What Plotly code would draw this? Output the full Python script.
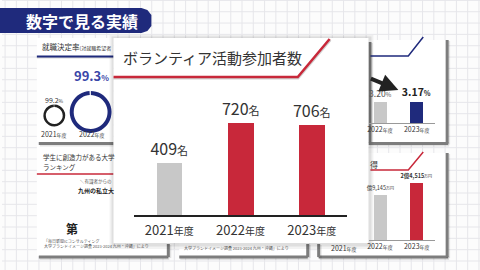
import plotly.graph_objects as go

W, H = 480, 270
FONT = "Noto Sans CJK JP, Noto Sans, sans-serif"
NAVY = "#1f2a7c"
RED = "#c8283a"
GRAY_BAR = "#c8c8c8"
BORDER = "#7d7d7d"

# ---------------- data ----------------
years = ["2021", "2022", "2023"]
volunteers = [409, 720, 706]
volunteer_colors = [GRAY_BAR, RED, RED]

rate_years = ["2022", "2023"]
rates = [3.20, 3.17]
rate_labels = ["3.20<span style='font-size:6px'>%</span>",
               "<b>3.17</b><span style='font-size:7px'><b>%</b></span>"]

fund_years = ["2022", "2023"]
funds = [19145, 24515]  # 万円
fund_labels = ["億9,145<span style='font-size:4px'>万円</span>",
               "<b>2億4,515</b><span style='font-size:4px'>万円</span>"]

employment = [99.2, 99.3]


def px(x):
    return x / W


def py(y):
    return 1 - y / H


def tick_text(ys, small):
    return [f"{y}<span style='font-size:{small}px'>年度</span>" for y in ys]


shapes = []


def rect(x0, y0, x1, y1, fill):
    shapes.append(dict(type="rect", xref="paper", yref="paper",
                       x0=px(x0), x1=px(x1), y0=py(y1), y1=py(y0),
                       fillcolor=fill, line=dict(width=0), layer="below"))


def seg(x0, y0, x1, y1, color, width):
    shapes.append(dict(type="line", xref="paper", yref="paper",
                       x0=px(x0), x1=px(x1), y0=py(y0), y1=py(y1),
                       line=dict(color=color, width=width), layer="below"))


def path(points, color=None, width=1.5, fill=None, closed=False):
    d = "M " + " L ".join(f"{px(x):.5f},{py(y):.5f}" for x, y in points)
    if closed:
        d += " Z"
    shapes.append(dict(type="path", xref="paper", yref="paper", path=d,
                       line=dict(color=color or "rgba(0,0,0,0)", width=width if color else 0),
                       fillcolor=fill, layer="below"))


# grid paper
k = 0
while 3.1 + 11.33 * k < W:
    x = 3.1 + 11.33 * k
    seg(x, 0, x, H, "#e6e6ea", 1)
    k += 1
k = 0
while 0.4 + 11.33 * k < H:
    y = 0.4 + 11.33 * k
    seg(0, y, W, y, "#e6e6ea", 1)
    k += 1

# banner
path([(-5, 8), (140, 8), (146, 10), (150, 15), (150, 26), (146, 31), (140, 33), (-5, 33)],
     fill=NAVY, closed=True)

# background cards (white)
rect(35, 38, 112, 142, "white")      # top-left
rect(35, 145, 167, 256, "white")     # bottom-left
rect(178, 240, 307, 256, "white")    # bottom-middle
rect(368, 40, 447, 142, "white")     # top-right
rect(318, 153, 447, 256, "white")    # bottom-right

# card borders
for (a, b, c, d) in [(37, 143.5, 112, 143.5), (37, 257, 167, 257), (167, 244, 167, 257),
                     (178, 257, 307, 257), (307, 244, 307, 257),
                     (318, 257, 448, 257), (318, 244, 318, 257), (447, 153, 447, 257),
                     (369.5, 42, 369.5, 143), (447, 40, 447, 143.5), (368, 143.5, 448, 143.5)]:
    seg(a + 1, b + 1, c + 1, d + 1, "rgba(0,0,0,0.10)", 4)
    seg(a, b, c, d, BORDER, 3)

# top-left card decorations
seg(35, 57.5, 112, 57.5, "rgba(0,0,0,0.15)", 2)
seg(35, 56.5, 112, 56.5, NAVY, 2)
# bottom-left card red rule
seg(35, 174, 112, 174, RED, 1.5)
# top-right / bottom-right title rules
path([(370, 56), (408, 56), (423, 37)], color=NAVY, width=1.5)
path([(370, 170), (408, 170), (423, 152)], color=RED, width=1.5)

# main card with shadow
rect(108, 35, 373, 249, "rgba(0,0,0,0.05)")
rect(110, 36.5, 371, 246.5, "rgba(0,0,0,0.08)")
rect(112, 38, 368, 243, "white")
path([(112, 78.5), (297.5, 78.5), (330, 40)], color="rgba(0,0,0,0.18)", width=2)
path([(112, 77), (297, 77), (329, 39)], color=RED, width=2.5)

fig = go.Figure()

# main chart
fig.add_trace(go.Bar(
    x=years, y=volunteers, marker=dict(color=volunteer_colors, line=dict(width=0)),
    width=0.36,
    text=[f"{v}<span style='font-size:11px'>名</span>" for v in volunteers],
    textposition="outside", textfont=dict(size=16, color="#333", family=FONT),
    constraintext="none", cliponaxis=False, hoverinfo="skip",
    xaxis="x", yaxis="y", showlegend=False))

# top-right mini chart
fig.add_trace(go.Bar(
    x=rate_years, y=rates, marker=dict(color=[GRAY_BAR, NAVY], line=dict(width=0)),
    width=0.35, text=rate_labels, textposition="outside",
    textfont=dict(size=[8.5, 10.5], color=["#555", "#222"], family=FONT),
    constraintext="none", cliponaxis=False, hoverinfo="skip",
    xaxis="x2", yaxis="y2", showlegend=False))

# bottom-right mini chart
fig.add_trace(go.Bar(
    x=fund_years, y=funds, marker=dict(color=[GRAY_BAR, RED], line=dict(width=0)),
    width=0.35, text=fund_labels, textposition="outside",
    textfont=dict(size=5.5, color="#333", family=FONT),
    constraintext="none", cliponaxis=False, hoverinfo="skip",
    xaxis="x3", yaxis="y3", showlegend=False))

# rings
fig.add_trace(go.Pie(values=[employment[0], 100 - employment[0]],
                     marker=dict(colors=["#222", "rgba(0,0,0,0)"], line=dict(width=0)),
                     hole=0.77, sort=False, direction="clockwise", rotation=0,
                     textinfo="none", hoverinfo="skip", showlegend=False,
                     domain=dict(x=[px(41.5), px(63.5)], y=[py(126.5), py(104.5)])))
fig.add_trace(go.Pie(values=[employment[1], 100 - employment[1]],
                     marker=dict(colors=[NAVY, "white"], line=dict(width=0)),
                     hole=0.81, sort=False, direction="clockwise", rotation=0,
                     textinfo="none", hoverinfo="skip", showlegend=False,
                     domain=dict(x=[px(68), px(110)], y=[py(133), py(91)])))

ann = []


def text(x, y, s, size, color="#333", anchor="center", bold=False):
    if bold:
        s = f"<b>{s}</b>"
    ann.append(dict(x=px(x), y=py(y), xref="paper", yref="paper", text=s,
                    showarrow=False, xanchor=anchor, yanchor="middle",
                    font=dict(size=size, color=color, family=FONT)))


text(80, 21, "数字で見る実績", 16, "white", bold=True)
# top-left card
text(38, 46, "就職決定率<span style='font-size:5px'>(対就職希望者</span>", 7.5, "#333", "left")
text(90, 76, "<b>99.3</b><span style='font-size:8px'><b>%</b></span>", 13, "#3a46a8")
text(53, 100, "99.2<span style='font-size:5px'>%</span>", 7, "#333")
text(52, 134, "2021<span style='font-size:5px'>年度</span>", 7, "#333")
text(90, 134, "2022<span style='font-size:5px'>年度</span>", 7, "#333")
# bottom-left card
text(39, 157, "学生に創造力がある大学", 6.5, "#333", "left")
text(39, 167, "ランキング", 6.5, "#333", "left")
text(76, 181.5, "＼有識者からの", 4.5, "#555", "left")
text(74, 190, "九州の私立大", 6, "#222", "left", bold=True)
text(70, 228, "第", 12, "#222", bold=True)
text(40, 241, "「毎日新聞ICコンサルティング", 4, "#555", "left")
text(40, 246, "大学ブランドイメージ調査 2023-2024 九州・沖縄」により", 4, "#555", "left")
# bottom-middle / bottom-right
text(181, 248, "大学ブランドイメージ調査 2023-2024 九州・沖縄」により", 4, "#555", "left")
text(343, 248, "2021<span style='font-size:5px'>年度</span>", 7, "#333")
text(374, 164, "得", 8, "#333")
# main title
text(211, 57, "ボランティア活動参加者数", 15, "#333")

# black arrow
ann.append(dict(x=px(398), y=py(90), xref="paper", yref="paper", text="",
                showarrow=True, ax=-29, ay=-12, arrowhead=2, arrowsize=0.9,
                arrowwidth=4, arrowcolor="#222"))

axis_common = dict(showgrid=False, zeroline=False, fixedrange=True, type="category")

fig.update_layout(
    width=W, height=H, margin=dict(l=0, r=0, t=0, b=0),
    paper_bgcolor="#fcfcfc", plot_bgcolor="rgba(0,0,0,0)",
    font=dict(family=FONT, color="#333"),
    shapes=shapes, annotations=ann, bargap=0,
    xaxis=dict(**axis_common, domain=[px(132.25), px(346.75)], range=[-0.5, 2.5],
               anchor="y", tickvals=years, ticktext=tick_text(years, 10),
               tickfont=dict(size=13, color="#333"), showline=True,
               linecolor="#222", linewidth=1.5, ticks="outside", ticklen=3,
               tickcolor="rgba(0,0,0,0)"),
    yaxis=dict(domain=[py(215), py(100)], range=[0, 903], visible=False,
               anchor="x", fixedrange=True),
    xaxis2=dict(**axis_common, domain=[px(368.4), px(435)], range=[-0.3, 1.5],
                anchor="y2", tickvals=rate_years, ticktext=tick_text(rate_years, 5),
                tickfont=dict(size=7, color="#333"), showline=True,
                linecolor="#999", linewidth=1),
    yaxis2=dict(domain=[py(123), py(102)], range=[0, 3.2], visible=False,
                anchor="x2", fixedrange=True),
    xaxis3=dict(**axis_common, domain=[px(368.4), px(435)], range=[-0.3, 1.5],
                anchor="y3", tickvals=fund_years, ticktext=tick_text(fund_years, 5),
                tickfont=dict(size=7, color="#333"), showline=True,
                linecolor="#999", linewidth=1),
    yaxis3=dict(domain=[py(240), py(183)], range=[0, 24515], visible=False,
                anchor="x3", fixedrange=True),
)

fig.write_html("out.html")
